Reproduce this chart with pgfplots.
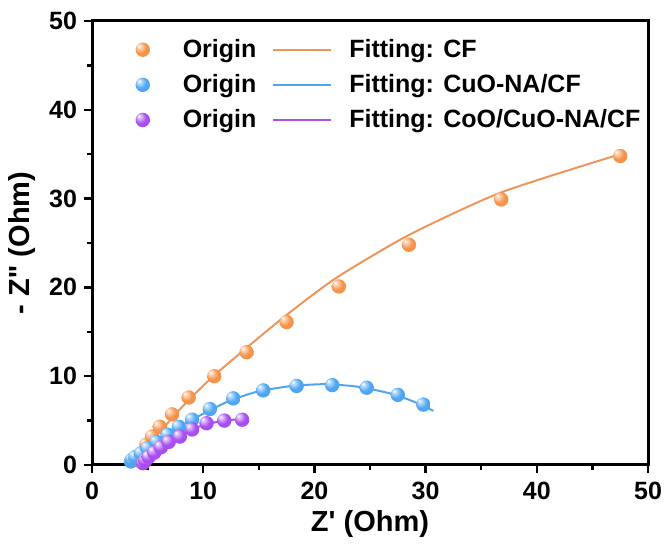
\documentclass[border=0pt]{standalone}
\usepackage{fontspec}
\setmainfont{Liberation Sans}
\usepackage{pgfplots}
\pgfplotsset{compat=1.18}
\definecolor{corange}{RGB}{246,146,74}
\definecolor{cblue}{RGB}{78,166,242}
\definecolor{cpurple}{RGB}{168,78,240}
\definecolor{lorange}{RGB}{238,150,90}
\definecolor{lblue}{RGB}{80,165,235}
\definecolor{lpurple}{RGB}{170,80,235}
\pgfdeclareradialshading{ballO}{\pgfqpoint{-14bp}{14bp}}{color(0bp)=(white); color(6bp)=(corange!35!white); color(20bp)=(corange); color(40bp)=(corange); color(50bp)=(corange!85!black)}
\pgfdeclareradialshading{ballB}{\pgfqpoint{-14bp}{14bp}}{color(0bp)=(white); color(6bp)=(cblue!35!white); color(20bp)=(cblue); color(40bp)=(cblue); color(50bp)=(cblue!85!black)}
\pgfdeclareradialshading{ballP}{\pgfqpoint{-14bp}{14bp}}{color(0bp)=(white); color(6bp)=(cpurple!35!white); color(20bp)=(cpurple); color(40bp)=(cpurple); color(50bp)=(cpurple!85!black)}
\pgfdeclareplotmark{bO}{\pgfpathcircle{\pgfpointorigin}{\pgfplotmarksize}\pgfshadepath{ballO}{0}\pgfusepath{}}
\pgfdeclareplotmark{bB}{\pgfpathcircle{\pgfpointorigin}{\pgfplotmarksize}\pgfshadepath{ballB}{0}\pgfusepath{}}
\pgfdeclareplotmark{bP}{\pgfpathcircle{\pgfpointorigin}{\pgfplotmarksize}\pgfshadepath{ballP}{0}\pgfusepath{}}
\pgfplotsset{
  balllegend/.style={legend image code/.code={\path[##1] plot[only marks] coordinates {(0pt,0pt)}; \path[draw=none,fill=none] (-8pt,0pt) -- (18pt,0pt);}},
  linelegend/.style={legend image code/.code={\draw[##1] (0pt,0pt) -- (29pt,0pt); \path[draw=none,fill=none] (0pt,0pt) -- (36pt,0pt);}},
}
\begin{document}
\begin{tikzpicture}
\begin{axis}[
  scale only axis, width=278pt, height=222pt,
  xmin=0, xmax=50, ymin=0, ymax=50,
  xtick={0,10,...,50}, ytick={0,10,...,50},
  minor tick num=1,
  tick align=outside, xtick pos=bottom, ytick pos=left,
  major tick length=4pt, minor tick length=2.5pt,
  every tick/.style={black, line width=1.2pt},
  axis line style={line width=1.5pt},
  /pgf/number format/assume math mode=true,
  tick label style={font=\fontsize{12.5}{14}\selectfont\bfseries},
  xticklabel style={yshift=-1pt},
  label style={font=\fontsize{14.5}{16}\selectfont\bfseries},
  xlabel={Z\textquotesingle{} (Ohm)},
  ylabel={- Z\textquotesingle\textquotesingle{} (Ohm)},
  xlabel style={yshift=1.5pt},
  legend columns=2,
  legend cell align=left,
  legend style={draw=none, fill=none, at={(0.051,0.978)}, anchor=north west,
    font=\fontsize{12.5}{14}\selectfont\bfseries, row sep=3pt,
    /tikz/every even column/.append style={column sep=6pt}},
]
% CF
\addplot[only marks, mark=bO, mark size=3.6pt, balllegend]
  coordinates {(4.2,0.5)(4.5,1.3)(4.9,2.3)(5.4,3.2)(6.1,4.3)(7.2,5.7)(8.7,7.6)(11.0,10.0)(13.9,12.7)(17.5,16.1)(22.2,20.1)(28.5,24.8)(36.8,29.9)(47.5,34.8)};
\addlegendentry{Origin}
\addplot[lorange, line width=1pt, smooth, tension=0.4, linelegend]
  coordinates {(4.0,0.2)(4.5,1.0)(5,2.0)(6,3.6)(7,5.0)(8,6.4)(9,7.7)(11,10.1)(14,13.3)(17.5,16.9)(22,21.1)(28.5,25.9)(36.8,30.7)(47.5,35.0)};
\addlegendentry{Fitting: CF}
% CuO-NA/CF
\addplot[only marks, mark=bB, mark size=3.6pt, balllegend]
  coordinates {(3.5,0.4)(3.6,0.6)(3.9,0.9)(4.4,1.3)(5.0,1.9)(5.8,2.6)(6.8,3.4)(7.8,4.3)(9.0,5.1)(10.6,6.3)(12.7,7.5)(15.4,8.4)(18.4,8.9)(21.6,9.0)(24.7,8.7)(27.5,7.9)(29.8,6.8)};
\addlegendentry{Origin}
\addplot[lblue, line width=1pt, smooth, tension=0.4, linelegend]
  coordinates {(3.3,0.2)(3.6,0.6)(4.2,1.2)(5,1.9)(6,2.8)(7,3.6)(8,4.4)(9,5.1)(10.5,6.1)(12.5,7.3)(15,8.3)(18,8.9)(21,9.1)(24,8.8)(27,8.0)(29,7.1)(30.7,6.1)};
\addlegendentry{Fitting: CuO-NA/CF}
% CoO/CuO-NA/CF
\addplot[only marks, mark=bP, mark size=3.6pt, balllegend]
  coordinates {(4.6,0.2)(4.8,0.5)(5.1,0.9)(5.6,1.4)(6.2,2.0)(6.9,2.6)(7.9,3.2)(9.0,4.0)(10.3,4.7)(11.9,5.0)(13.5,5.1)};
\addlegendentry{Origin}
\addplot[lpurple, line width=1pt, smooth, tension=0.4, linelegend]
  coordinates {(4.6,0.1)(5,0.6)(5.6,1.3)(6.3,2.0)(7,2.6)(8,3.3)(9,4.0)(10.3,4.6)(12,5.0)(13.5,5.2)};
\addlegendentry{Fitting: CoO/CuO-NA/CF}
\end{axis}
\pgfresetboundingbox
\path ([shift={(-46pt,-43.5pt)}]current axis.south west) rectangle ([shift={(9.5pt,10.5pt)}]current axis.north east);
\end{tikzpicture}
\end{document}
